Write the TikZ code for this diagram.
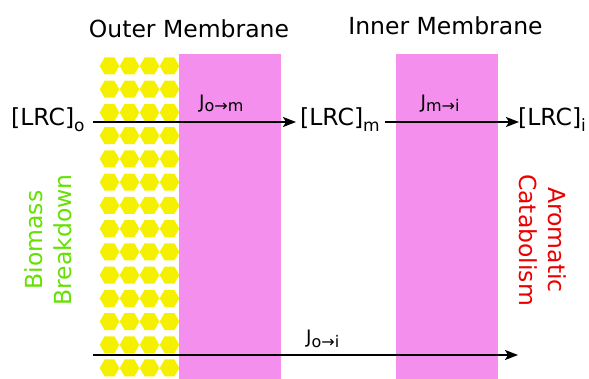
\documentclass[tikz,border=0pt]{standalone}
\usepackage{fontspec}
\setmainfont{DejaVu Sans}
\usetikzlibrary{arrows.meta}
\definecolor{memb}{RGB}{245,143,238}
\definecolor{hexy}{RGB}{245,240,0}
\definecolor{biog}{RGB}{100,225,0}
\definecolor{arored}{RGB}{235,0,0}
\newcommand\lsub[1]{\raisebox{-5.5pt}{\fontsize{17}{17}\selectfont #1}}
\newcommand\jsub[1]{\raisebox{-3pt}{\fontsize{16}{16}\selectfont #1}}
\begin{document}
\begin{tikzpicture}[x=1pt,y=-1pt,
  big/.style={font=\fontsize{23.5}{29}\selectfont, inner sep=0pt},
  jlab/.style={font=\fontsize{18.5}{20}\selectfont, inner sep=0pt, anchor=base west},
  flux/.style={line width=1.8pt, -{Stealth[length=13pt,width=10pt,inset=3pt]}},
  membrane/.style={fill=memb, draw=none},
  hexcell/.style={fill=hexy, draw=none}]
\useasboundingbox (0,0) rectangle (589,379);
\foreach \c in {0,...,3}{
  \foreach \r in {0,...,13}{
    \path[hexcell] ({109.5+20*\c},{66+23.23*\r}) ++(9.8,0) -- ++(-4.9,8.5) -- ++(-9.8,0) -- ++(-4.9,-8.5) -- ++(4.9,-8.5) -- ++(9.8,0) -- cycle;
  }}
\path[membrane] (179,54) rectangle (281,379);
\path[membrane] (396,54) rectangle (498,379);
\node[big, anchor=base] (outer) at (189,37.3) {Outer Membrane};
\node[big, anchor=base] (inner) at (445.5,35) {Inner Membrane};
\node[big, anchor=base west] (lrco) at (11,125.7) {[LRC]\lsub{o}};
\node[big, anchor=base west] (lrcm) at (300,125.7) {[LRC]\lsub{m}};
\node[big, anchor=base west] (lrci) at (518,125.7) {[LRC]\lsub{i}};
\coordinate (p0) at (93,122);
\coordinate (p1) at (296,122);
\coordinate (p2) at (385,122);
\coordinate (p3) at (519,122);
\coordinate (q0) at (93,355);
\coordinate (q1) at (518,355);
\draw[flux] (p0) -- (p1);
\draw[flux] (p2) -- (p3);
\draw[flux] (q0) -- (q1);
\node[jlab] (jom) at (199,109) {J\jsub{o→m}};
\node[jlab] (jmi) at (420.5,109) {J\jsub{m→i}};
\node[jlab] (joi) at (306,344) {J\jsub{o→i}};
\node[big, rotate=90, align=center, text=biog] (bio) at (48.2,240) {Biomass\\Breakdown};
\node[big, rotate=-90, align=center, text=arored] (aro) at (543,240) {Aromatic\\Catabolism};
\end{tikzpicture}
\end{document}
